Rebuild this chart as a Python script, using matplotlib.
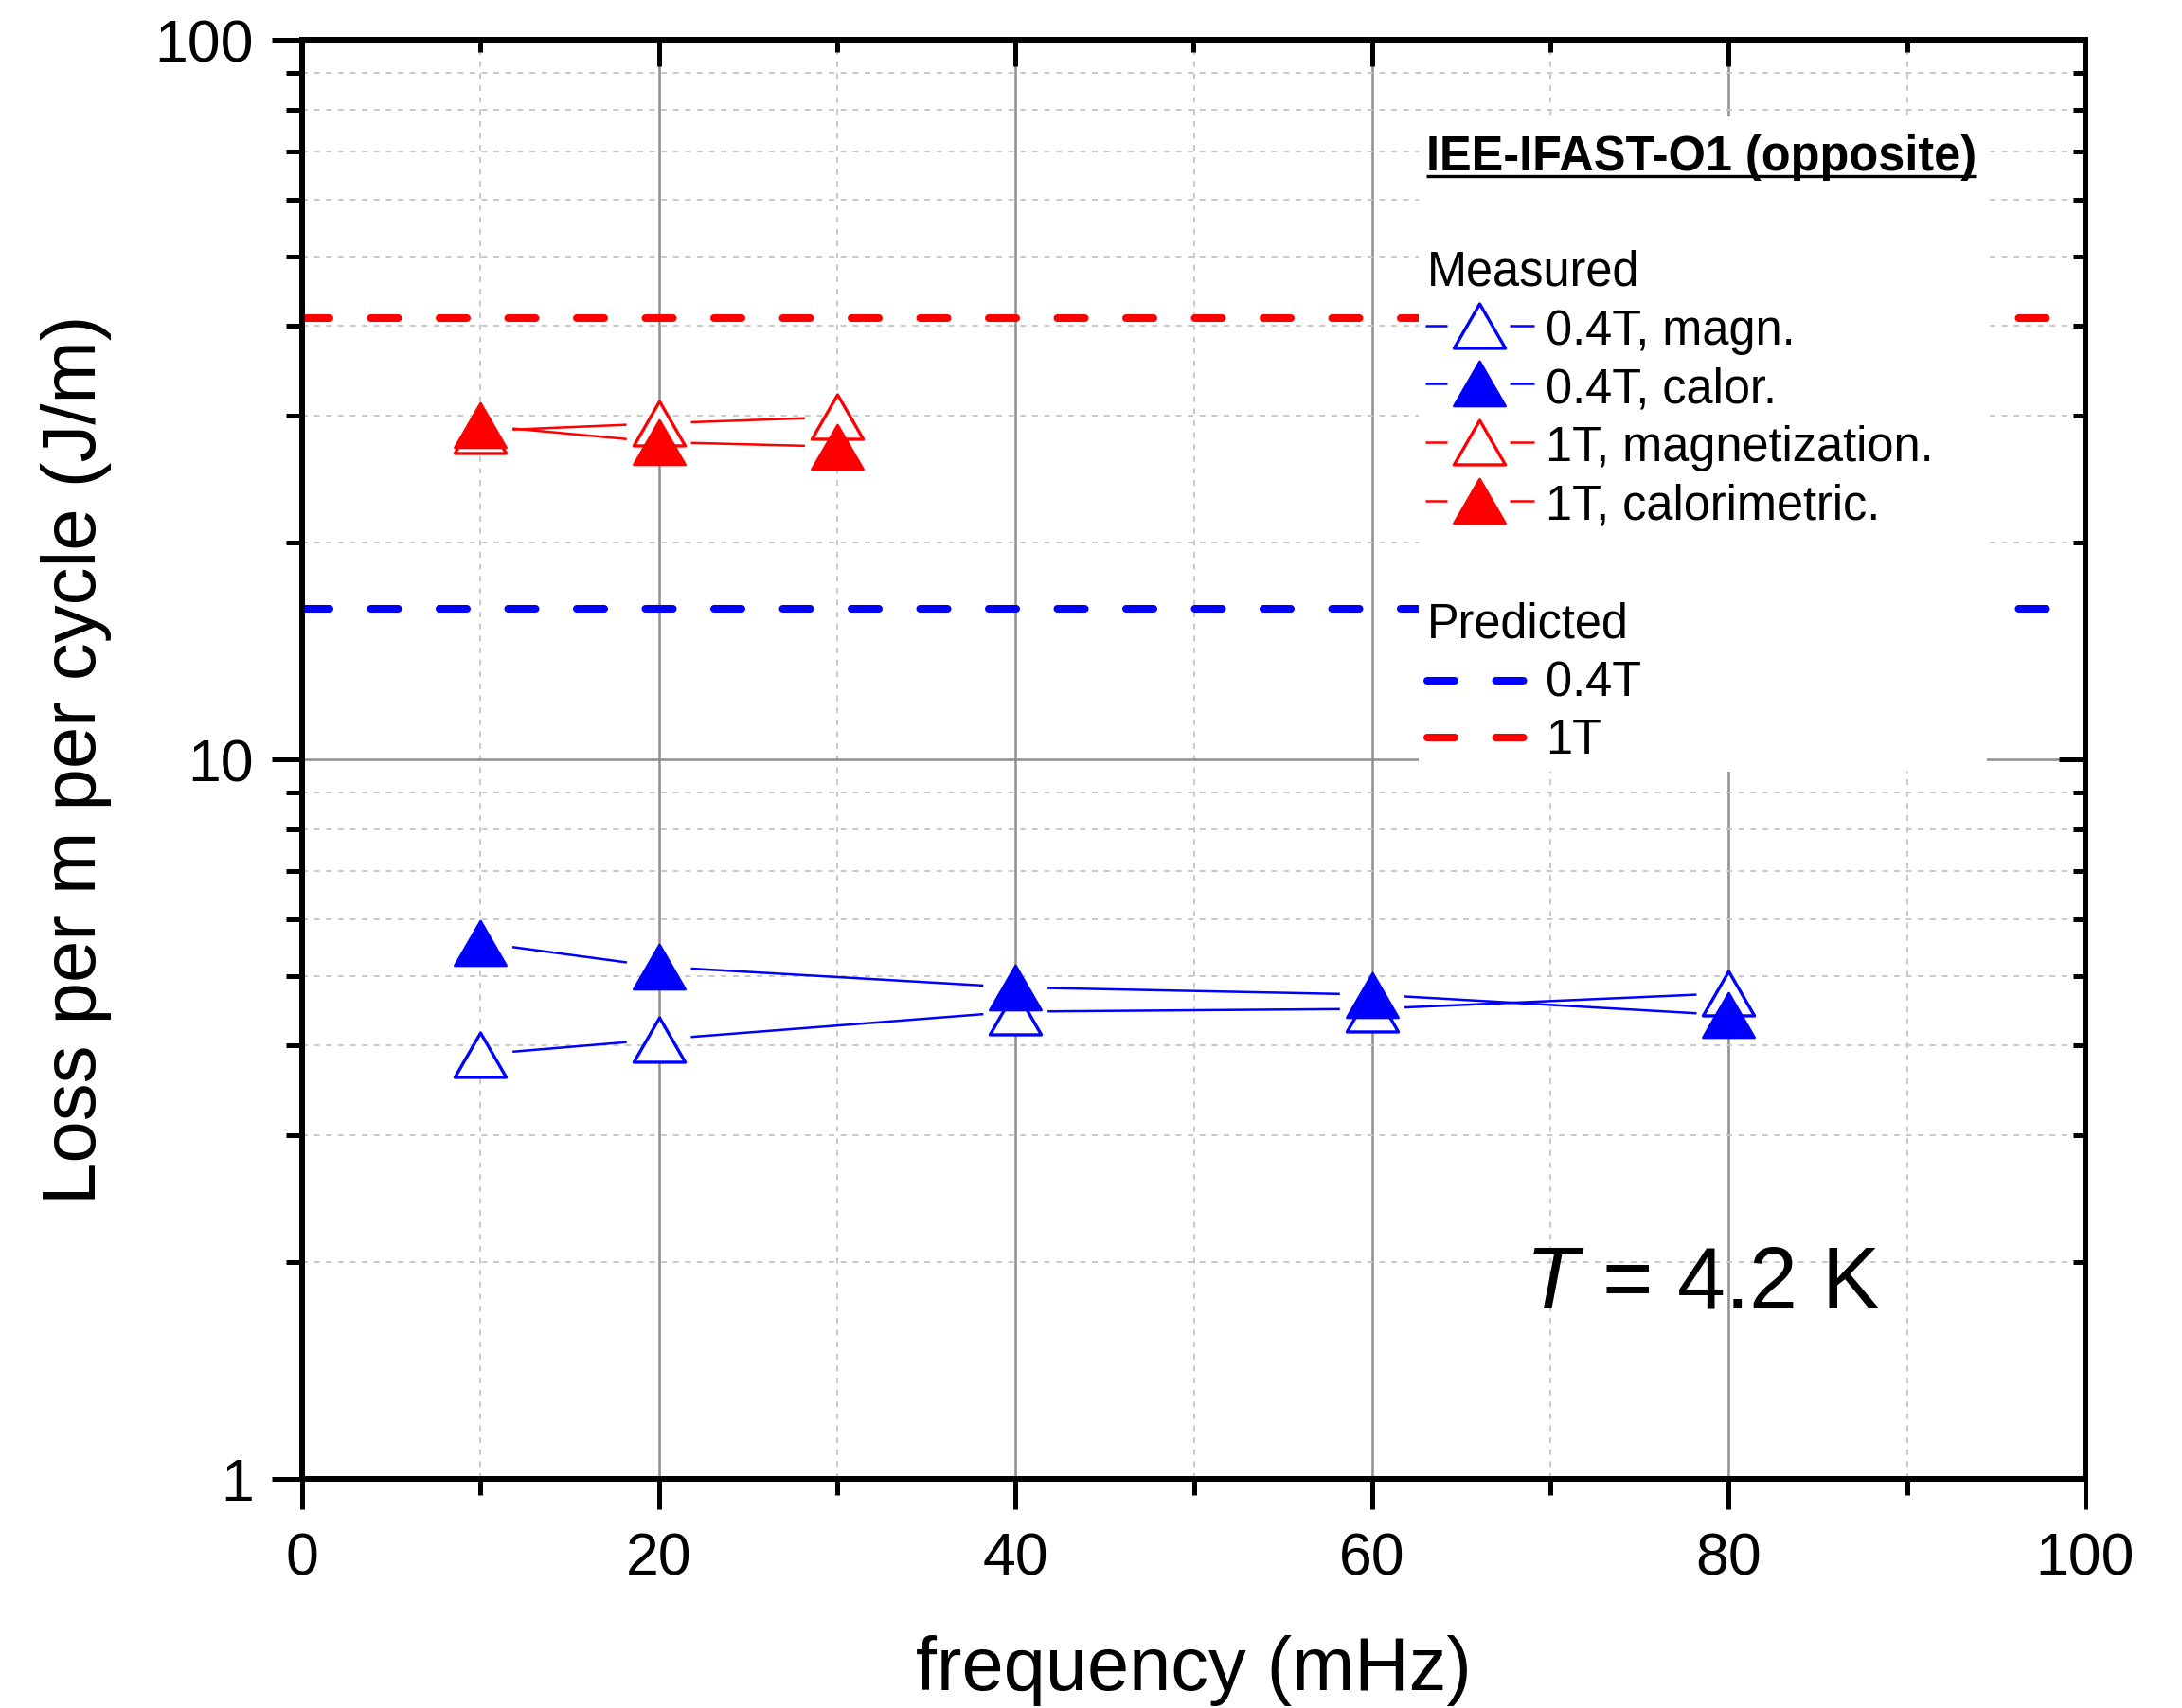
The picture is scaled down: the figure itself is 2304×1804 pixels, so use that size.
import matplotlib
matplotlib.use('Agg')
import matplotlib.pyplot as plt
import numpy as np
from matplotlib.path import Path
from matplotlib.patches import Rectangle
from matplotlib.ticker import FixedLocator, NullFormatter, FixedFormatter

plt.rcParams['font.family'] = ['Liberation Sans', 'DejaVu Sans']
plt.rcParams['mathtext.fontset'] = 'custom'
plt.rcParams['mathtext.it'] = 'Liberation Sans:italic'
plt.rcParams['mathtext.rm'] = 'Liberation Sans'

# ---------------- data ----------------
freq_04 = [10, 20, 40, 60, 80]
magn_04 = [3.89, 4.08, 4.46, 4.50, 4.73]
calor_04 = [5.56, 5.15, 4.82, 4.71, 4.41]
freq_1 = [10, 20, 30]
magn_1 = [28.6, 29.3, 29.9]
calor_1 = [29.1, 27.6, 27.2]
pred_04 = 16.2
pred_1 = 41.0

x_major = [0, 20, 40, 60, 80, 100]
x_minor = [10, 30, 50, 70, 90]
y_major = [1, 10, 100]
y_major_labels = ['1', '10', '100']
y_minor = [2, 3, 4, 5, 6, 7, 8, 9, 20, 30, 40, 50, 60, 70, 80, 90]

legend_title = 'IEE-IFAST-O1 (opposite)'
legend_measured = ['0.4T, magn.', '0.4T, calor.', '1T, magnetization.', '1T, calorimetric.']
legend_predicted = ['0.4T', '1T']

RED = '#FF0000'
BLUE = '#0000FF'

W, H = 2304, 1804
fig = plt.figure(figsize=(W / 200, H / 200), dpi=200)
L, R, T, B = 319, 2202, 42, 1562
ax = fig.add_axes([L / W, 1 - B / H, (R - L) / W, (B - T) / H])


def axc(px, py):
    return ((px - L) / (R - L), (B - py) / (B - T))


tri = Path([(0, 0.866), (-1, -0.866), (1, -0.866), (0, 0.866)],
           [Path.MOVETO, Path.LINETO, Path.LINETO, Path.CLOSEPOLY])
MS = 19.5

ax.set_yscale('log')
ax.set_xlim(0, 100)
ax.set_ylim(1, 100)

# grid
ax.xaxis.set_major_locator(FixedLocator(x_major))
ax.xaxis.set_minor_locator(FixedLocator(x_minor))
ax.yaxis.set_major_locator(FixedLocator(y_major))
ax.yaxis.set_major_formatter(FixedFormatter(y_major_labels))
ax.yaxis.set_minor_locator(FixedLocator(y_minor))
ax.yaxis.set_minor_formatter(NullFormatter())
ax.grid(which='major', color='#8f8f8f', lw=0.9, ls='-', zorder=0)
ax.grid(which='minor', color='#c8c8c8', lw=0.7, dashes=(3, 3.5), zorder=0)
ax.set_axisbelow(True)

# predicted lines
ax.axhline(pred_1, color=RED, lw=2.9, dashes=(3.6, 5.4), dash_capstyle='round', zorder=2)
ax.axhline(pred_04, color=BLUE, lw=2.9, dashes=(3.6, 5.4), dash_capstyle='round', zorder=2)


def gapped_line(xs, ys, color, gap_px=34, lw=0.9, z=4):
    """Connect points with segments that stop short of the markers (Origin style)."""
    pts = ax.transData.transform(np.column_stack([xs, ys]))
    inv = ax.transData.inverted()
    for p, q in zip(pts[:-1], pts[1:]):
        d = q - p
        n = np.hypot(*d)
        if n <= 2 * gap_px:
            continue
        u = d / n
        a = inv.transform(p + u * gap_px)
        b = inv.transform(q - u * gap_px)
        ax.plot([a[0], b[0]], [a[1], b[1]], color=color, lw=lw, zorder=z,
                solid_capstyle='butt')


# measured series (open first, filled on top)
gapped_line(freq_04, magn_04, BLUE)
gapped_line(freq_04, calor_04, BLUE)
gapped_line(freq_1, magn_1, RED)
gapped_line(freq_1, calor_1, RED)
ax.plot(freq_04, magn_04, ls='none', marker=tri, ms=MS, mfc='white', mec=BLUE, mew=1.2, zorder=5)
ax.plot(freq_04, calor_04, ls='none', marker=tri, ms=MS, mfc=BLUE, mec=BLUE, mew=1.0, zorder=6)
ax.plot(freq_1, magn_1, ls='none', marker=tri, ms=MS, mfc='white', mec=RED, mew=1.2, zorder=5)
ax.plot(freq_1, calor_1, ls='none', marker=tri, ms=MS, mfc=RED, mec=RED, mew=1.0, zorder=6)

# axes styling
for s in ax.spines.values():
    s.set_linewidth(2.0)
ax.tick_params(which='major', direction='out', length=11.5, width=1.8, labelsize=22.5, pad=7)
ax.tick_params(axis='x', which='major', pad=8.5)
ax.tick_params(which='minor', direction='out', length=6, width=1.8)

ax_r = ax.twinx()
ax_r.set_yscale('log')
ax_r.set_ylim(1, 100)
ax_r.yaxis.set_major_locator(FixedLocator(y_major))
ax_r.yaxis.set_minor_locator(FixedLocator(y_minor))
ax_r.yaxis.set_minor_formatter(NullFormatter())
ax_r.tick_params(which='major', direction='in', length=10, width=1.8, labelright=False)
ax_r.tick_params(which='minor', direction='in', length=4.7, width=1.8)
ax_t = ax.twiny()
ax_t.set_xlim(0, 100)
ax_t.xaxis.set_major_locator(FixedLocator(x_major))
ax_t.xaxis.set_minor_locator(FixedLocator(x_minor))
ax_t.tick_params(which='major', direction='in', length=10, width=1.8, labeltop=False)
ax_t.tick_params(which='minor', direction='in', length=4.7, width=1.8)
for a in (ax_r, ax_t):
    for s in a.spines.values():
        s.set_linewidth(2.0)

ax.set_xlabel('frequency (mHz)', fontsize=28.6, va='center')
ax.xaxis.set_label_coords(0.5, axc(0, 1765)[1])
ax.set_ylabel('Loss per m per cycle (J/m)', fontsize=28.7, va='center')
ax.yaxis.set_label_coords(axc(81, 0)[0], 0.5)

# annotation
ax.text(*axc(1610, 1381), '$T$ = 4.2 K', fontsize=33, ha='left', va='baseline',
        transform=ax.transAxes, zorder=6)

# ---------------- legend (manual) ----------------
x0, y0 = axc(1498, 815)
x1, y1 = axc(2098, 123)
ax.add_patch(Rectangle((x0, y0), x1 - x0, y1 - y0, transform=ax.transAxes,
                       facecolor='white', edgecolor='none', zorder=3))
FS = 18.2
tt = ax.text(*axc(1506, 180), legend_title, fontsize=18.2, fontweight='bold',
             ha='left', va='baseline', transform=ax.transAxes, zorder=6)
ax.text(*axc(1507, 302), 'Measured', fontsize=FS, ha='left', va='baseline',
        transform=ax.transAxes, zorder=6)
ax.text(*axc(1507, 674), 'Predicted', fontsize=FS, ha='left', va='baseline',
        transform=ax.transAxes, zorder=6)

meas_styles = [(BLUE, 'white'), (BLUE, BLUE), (RED, 'white'), (RED, RED)]
meas_base = [364, 425, 487, 549]
for lab, (c, fc), yb in zip(legend_measured, meas_styles, meas_base):
    _, ya = axc(0, yb - 20)
    for (pa, pb) in [(1505, 1528), (1594, 1620)]:
        xa, _ = axc(pa, 0)
        xb, _ = axc(pb, 0)
        ax.plot([xa, xb], [ya, ya], color=c, lw=0.9, transform=ax.transAxes, zorder=6,
                clip_on=False, solid_capstyle='butt')
    xm, _ = axc(1562, 0)
    ax.plot([xm], [ya], marker=tri, ms=MS, mfc=fc, mec=c, mew=1.2 if fc == 'white' else 1.0,
            transform=ax.transAxes, zorder=7, clip_on=False, ls='none')
    ax.text(*axc(1632, yb), lab, fontsize=FS, ha='left', va='baseline',
            transform=ax.transAxes, zorder=6)

pred_colors = [BLUE, RED]
pred_base = [736, 796]
for lab, c, yb in zip(legend_predicted, pred_colors, pred_base):
    xa, ya = axc(1507, yb - 17)
    xb, _ = axc(1610, yb - 17)
    ax.plot([xa, xb], [ya, ya], color=c, lw=2.9, dashes=(3.6, 5.4), dash_capstyle='round',
            transform=ax.transAxes, zorder=6, clip_on=False)
    ax.text(*axc(1632, yb), lab, fontsize=FS, ha='left', va='baseline',
            transform=ax.transAxes, zorder=6)

# underline for title
fig.canvas.draw()
bb = tt.get_window_extent()
inv = ax.transAxes.inverted()
(ux0, _), (ux1, _) = inv.transform([(bb.x0, 0), (bb.x1, 0)])
uy = axc(0, 186)[1]
ax.plot([ux0, ux1], [uy, uy], color='black', lw=1.2, transform=ax.transAxes, zorder=6,
        solid_capstyle='butt')

fig.savefig('out.png', dpi=200)
